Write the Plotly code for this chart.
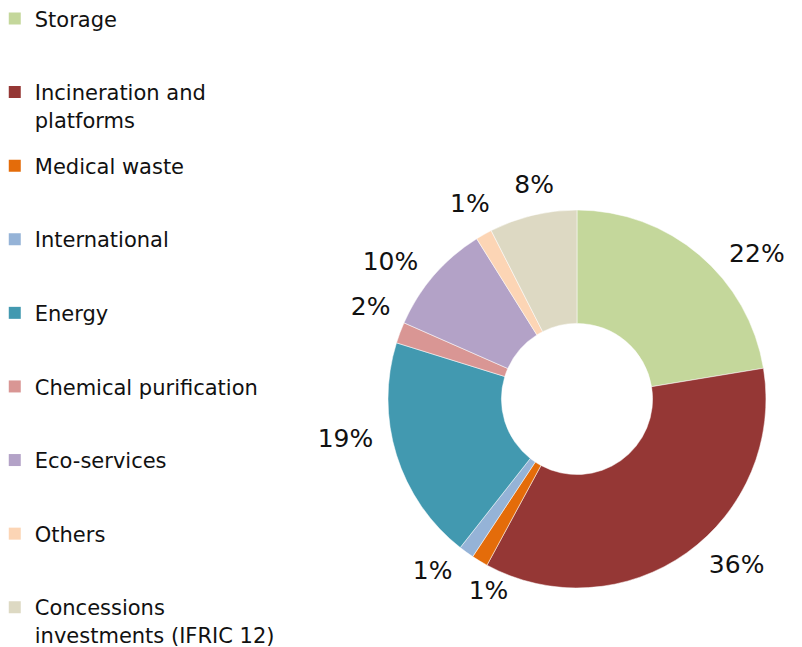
import plotly.graph_objects as go

categories = ["Storage", "Incineration and<br>platforms", "Medical waste", "International",
              "Energy", "Chemical purification", "Eco-services", "Others",
              "Concessions<br>investments (IFRIC 12)"]
shares = [22.4, 35.5, 1.4, 1.3, 19.2, 1.8, 9.5, 1.4, 7.5]
pct_labels = ["22%", "36%", "1%", "1%", "19%", "2%", "10%", "1%", "8%"]
colors = ["#C4D79B", "#953735", "#E46C0A", "#95B3D7", "#4299B0",
          "#D99694", "#B3A2C7", "#FCD5B5", "#DDD9C3"]

# percentage labels are drawn by invisible label rings (outside text), split in layers
# so that neighbouring small-slice labels are not pushed apart with leader lines
label_layer = ["B", "E", "D", "A", "B", "B", "A", "C", "F"]
layer_style = {"A": (1.06, 0), "B": (1.06, 6), "C": (1.06, 6),
               "D": (1.0, -12), "E": (1.06, -3), "F": (1.06, 9)}  # (ring scale, rotation)

FONT = "DejaVu Sans"
TXT = "#111111"

flat_labels = [c.replace("<br>", " ") for c in categories]
pie_domain = dict(x=[0.4738, 0.9451], y=[0.1036, 0.6878])
cx = sum(pie_domain["x"]) / 2
cy = sum(pie_domain["y"]) / 2


def scaled_domain(k):
    hx = (pie_domain["x"][1] - pie_domain["x"][0]) / 2 * k
    hy = (pie_domain["y"][1] - pie_domain["y"][0]) / 2 * k
    return dict(x=[cx - hx, cx + hx], y=[cy - hy, cy + hy])


fig = go.Figure()
fig.add_trace(go.Pie(
    labels=flat_labels, values=shares,
    textinfo="none", sort=False, direction="clockwise", rotation=0, hole=0.40,
    marker=dict(colors=colors, line=dict(color="white", width=0.5)),
    domain=pie_domain, showlegend=False, hoverinfo="label+percent",
))

for layer, (k, rot) in layer_style.items():
    sel = [lay == layer for lay in label_layer]
    fig.add_trace(go.Pie(
        labels=flat_labels, values=shares,
        text=[t if s else "" for t, s in zip(pct_labels, sel)],
        textinfo="text",
        textposition=["outside" if s else "none" for s in sel],
        sort=False, direction="clockwise", rotation=rot, hole=0.95,
        marker=dict(colors=["rgba(0,0,0,0)"] * len(shares), line=dict(width=0)),
        outsidetextfont=dict(family=FONT, size=25, color=TXT),
        domain=scaled_domain(k), showlegend=False, hoverinfo="skip",
    ))

for i, (cat, col) in enumerate(zip(categories, colors)):
    name = cat if "<br>" in cat else cat + "<br> "
    fig.add_trace(go.Scatter(
        x=[None], y=[None], mode="markers", name=name,
        marker=dict(symbol="square", size=12, color=col),
        legendgroup=f"g{i}", showlegend=True,
    ))

fig.update_layout(
    width=802, height=647,
    margin=dict(l=0, r=0, t=0, b=0, autoexpand=False),
    paper_bgcolor="white", plot_bgcolor="white",
    xaxis=dict(visible=False), yaxis=dict(visible=False),
    legend=dict(x=-0.0165, y=1.015, xanchor="left", yanchor="top",
                font=dict(family=FONT, size=21, color=TXT),
                valign="top", traceorder="grouped", tracegroupgap=16,
                itemwidth=30, bgcolor="rgba(0,0,0,0)", maxheight=1000),
    font=dict(family=FONT, color=TXT),
)

fig.write_html("out.html")
